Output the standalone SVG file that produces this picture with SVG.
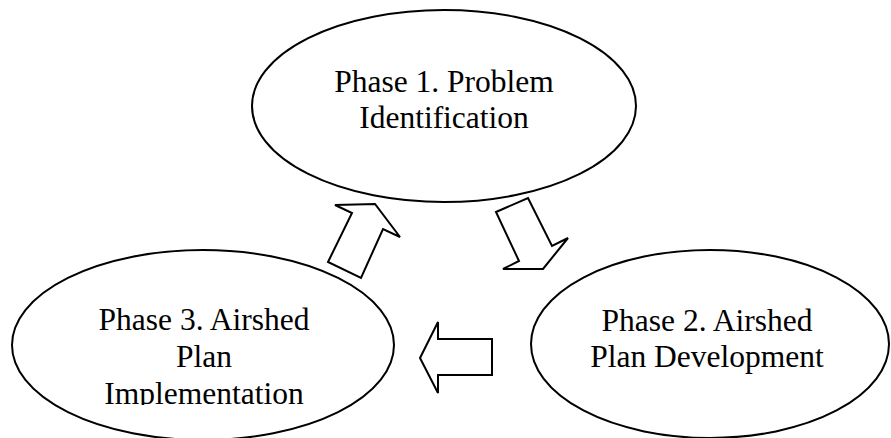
<svg xmlns="http://www.w3.org/2000/svg" width="891" height="438" viewBox="0 0 891 438">
<style>
.node{fill:#fff;stroke:#000;stroke-width:2}
.arrow{fill:#fff;stroke:#000;stroke-width:2;stroke-linejoin:miter}
.lbl{font-family:"Liberation Serif","Times New Roman",serif;font-size:31.5px;fill:#000;text-anchor:middle}
</style>
<defs>
<clipPath id="clip3"><rect x="0" y="0" width="891" height="405"/></clipPath>
</defs>
<rect width="891" height="438" fill="#fff"/>
<g id="phase1">
<ellipse class="node" cx="444" cy="106" rx="192" ry="96"/>
<text class="lbl" x="444" y="92">Phase 1. Problem</text>
<text class="lbl" x="444" y="128">Identification</text>
</g>
<g id="phase2">
<ellipse class="node" cx="710" cy="344" rx="179" ry="94"/>
<text class="lbl" x="707" y="331">Phase 2. Airshed</text>
<text class="lbl" x="707" y="367">Plan Development</text>
</g>
<g id="phase3">
<ellipse class="node" cx="203" cy="345" rx="191" ry="95"/>
<g clip-path="url(#clip3)">
<text class="lbl" x="204" y="330">Phase 3. Airshed</text>
<text class="lbl" x="204" y="367">Plan</text>
<text class="lbl" x="204" y="404">Implementation</text>
</g>
</g>
<g id="connectors">
<polygon class="arrow" points="496,212 528,198 552,246 568,238 543,269 503,269 519,261"/>
<polygon class="arrow" points="420,358 438,322 438,339 492,339 492,375 438,375 438,393"/>
<polygon class="arrow" points="335,205 375,204 400,237 383,229 361,278 328,262 352,213"/>
</g>
</svg>
